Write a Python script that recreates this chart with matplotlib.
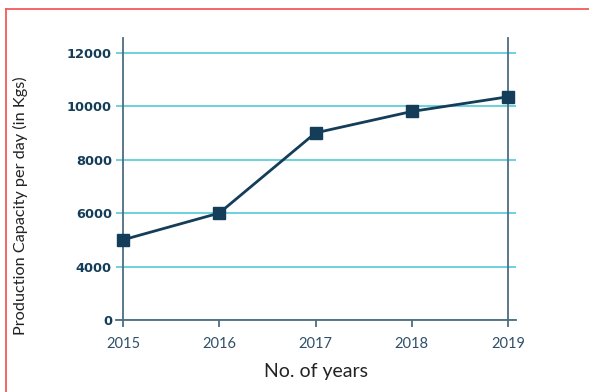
import numpy as np
import matplotlib
matplotlib.use('Agg')
import matplotlib.pyplot as plt
from matplotlib.lines import Line2D
from matplotlib.font_manager import FontProperties

years = [2015, 2016, 2017, 2018, 2019]
capacity = [5000, 6000, 9000, 9800, 10350]
ytick_vals = [0, 4000, 6000, 8000, 10000, 12000]


# the chart squeezes 0-4000 into one step, above that 2000 per step
def fwd(v):
    v = np.asarray(v, dtype=float)
    return np.where(v < 4000, v / 4000.0, (v - 4000) / 2000.0 + 1)


def inv(p):
    p = np.asarray(p, dtype=float)
    return np.where(p < 1, p * 4000.0, (p - 1) * 2000.0 + 4000)


navy = '#143d59'
spine_c = '#4d6d82'
grid_c = '#5fcfd9'

plt.rcParams['font.family'] = ['Lato', 'DejaVu Sans']

fig = plt.figure(figsize=(5.89, 3.92), dpi=100)
ax = fig.add_axes([116 / 589, 72 / 392, 400 / 589, 282.3 / 392])

ax.set_yscale('function', functions=(fwd, inv))
ax.set_ylim(0, 12560)
ax.set_xlim(2014.927, 2019.083)

# spines first: moving them resets the tick objects
ax.spines['top'].set_visible(False)
ax.spines['left'].set_position(('data', 2015))
ax.spines['right'].set_position(('data', 2019))
for s in ['left', 'right', 'bottom']:
    ax.spines[s].set_color(spine_c)
    ax.spines[s].set_linewidth(1.3)

ax.plot(years, capacity, color=navy, lw=2, marker='s', markersize=8, zorder=3)

ax.set_yticks(ytick_vals)
ax.set_yticklabels([str(v) for v in ytick_vals], color=navy)
ax.set_xticks(years)
ax.set_xticklabels([str(y) for y in years], color='#2f5068', fontsize=10.5)
ax.tick_params(axis='y', which='both', length=0, pad=8, right=False, labelright=False)
ax.tick_params(axis='x', length=5, color=spine_c, width=1.3, pad=7)

bold_fp = FontProperties(family='DejaVu Sans', weight='bold', size=9.4)
for lab in ax.get_yticklabels():
    lab.set_fontproperties(bold_fp)

ax.grid(axis='y', color=grid_c, lw=1.3)
ax.set_axisbelow(True)

ax.set_xlabel('No. of years', fontsize=14, color='#222222', labelpad=9)
fig.text(20 / 589, 1 - 206 / 392, 'Production Capacity per day (in Kgs)', rotation=90,
         ha='center', va='center', fontsize=11.7, color='#222222')

# red frame
red = '#f25a5a'
fig.add_artist(Line2D([6 / 589, 1.0], [1 - 8.5 / 392, 1 - 8.5 / 392], color=red, lw=1.3, transform=fig.transFigure))
fig.add_artist(Line2D([6 / 589, 6 / 589], [0, 1 - 8.5 / 392], color=red, lw=1.3, transform=fig.transFigure))

fig.savefig('out.png', dpi=100)
